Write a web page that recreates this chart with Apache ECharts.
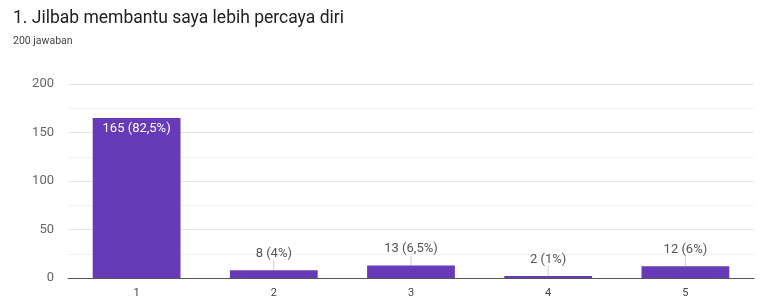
<!DOCTYPE html>
<html><head><meta charset="utf-8">
<script src="https://cdn.jsdelivr.net/npm/echarts@6/dist/echarts.min.js"></script>
<style>html,body{margin:0;padding:0;background:#fff}#c{width:768px;height:296px}</style>
</head><body><div id="c"></div>
<script>
const titleText = "1. Jilbab membantu saya lebih percaya diri";
const subtitleText = "200 jawaban";
const categories = ["1", "2", "3", "4", "5"];
const counts = [165, 8, 13, 2, 12];
const percents = ["82,5%", "4%", "6,5%", "1%", "6%"];
const yTicks = [0, 50, 100, 150, 200];

const chart = echarts.init(document.getElementById('c'));
const data = counts.map((v, i) => {
  const d = { value: v };
  if (i === 0) {
    d.label = { position: 'insideTop', color: '#fff', distance: 4 };
    d.labelLine = { show: false };
  }
  return d;
});
chart.setOption({
  animation: false,
  title: [
    { text: titleText, left: 8, top: 5, padding: 5, textStyle: { fontFamily: 'Roboto', fontSize: 17.5, fontWeight: 'normal', color: '#202124' } },
    { text: subtitleText, left: 8, top: 31, padding: 5, textStyle: { fontFamily: 'Roboto', fontSize: 10.5, fontWeight: 'normal', color: '#444' } }
  ],
  grid: { left: 68, right: 14, top: 84, bottom: 18, outerBoundsMode: 'none', containLabel: false },
  xAxis: {
    type: 'category', data: categories,
    axisTick: { show: false },
    axisLine: { lineStyle: { color: '#555', width: 1 } },
    axisLabel: { fontFamily: 'Roboto', fontSize: 11, color: '#444', margin: 10 }
  },
  yAxis: {
    type: 'value', min: yTicks[0], max: yTicks[yTicks.length - 1], interval: 50,
    minorTick: { show: false, splitNumber: 2 },
    minorSplitLine: { show: true, lineStyle: { color: '#f2f2f2' } },
    splitLine: { lineStyle: { color: '#e6e6e6' } },
    axisLabel: { fontFamily: 'Roboto', fontSize: 13, color: '#666', margin: 14 }
  },
  series: [{
    type: 'bar', data: data, barWidth: '64%',
    itemStyle: { color: '#673ab7' },
    label: {
      show: true, position: 'top', distance: 2,
      fontFamily: 'Roboto', fontSize: 13, color: '#555',
      formatter: p => counts[p.dataIndex] + ' (' + percents[p.dataIndex] + ')'
    },
    labelLayout: p => (p.dataIndex === 0 ? {} : { dy: -8 }),
    labelLine: { show: true, lineStyle: { color: '#ccc', width: 1 } }
  }]
});
</script></body></html>
